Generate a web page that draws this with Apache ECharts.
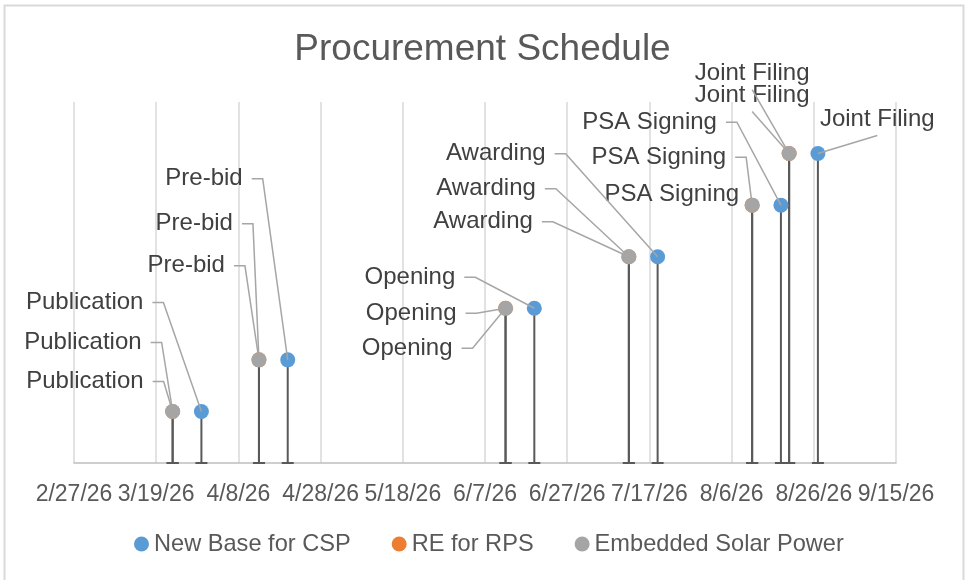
<!DOCTYPE html>
<html>
<head>
<meta charset="utf-8">
<script src="https://cdn.jsdelivr.net/npm/echarts@6/dist/echarts.min.js"></script>
<style>
  body { margin: 0; background: #fff; }
  #chart { width: 965px; height: 580px; }
</style>
</head>
<body>
<div id="chart"></div>
<script>
// milestones (y level 1..6)
const milestones = ['Publication', 'Pre-bid', 'Opening', 'Awarding', 'PSA Signing', 'Joint Filing'];
const levels = [1, 2, 3, 4, 5, 6];
// dates per series
const cspDates = ['2026-03-30', '2026-04-20', '2026-06-19', '2026-07-19', '2026-08-18', '2026-08-27'];
const rpsDates = ['2026-03-23', '2026-04-13', '2026-06-12', '2026-07-12', '2026-08-11', '2026-08-20'];
const solarDates = ['2026-03-23', '2026-04-13', '2026-06-12', '2026-07-12', '2026-08-11', '2026-08-20'];
// x axis range (ticks every 20 days)
const axisStart = '2026-02-27';
const axisEnd = '2026-09-15';
const tickStep = 20;

const FONT = 'Liberation Sans, Arial, sans-serif';

// excel style serial day number
function serial(s) {
    const p = s.split('-');
    return Date.UTC(+p[0], +p[1] - 1, +p[2]) / 86400000 + 25569;
}
function fmtDate(v) {
    const d = new Date((v - 25569) * 86400000);
    return (d.getUTCMonth() + 1) + '/' + d.getUTCDate() + '/' + String(d.getUTCFullYear()).slice(2);
}
function points(dates) {
    return dates.map((d, i) => [serial(d), levels[i]]);
}

// label placement relative to the marker: [dx, dy, align, leader anchor]
// anchor: r = right edge with short stub, b = bottom centre, n = no leader
const cspLabelPos = [[-58, -109, 'right', 'r'], [-45, -181, 'right', 'r'], [-79, -31, 'right', 'r'],
    [-112, -103, 'right', 'r'], [-64, -83, 'right', 'r'], [2, -34, 'left', 'b']];
const rpsLabelPos = [[-31, -69, 'right', 'r'], [-26, -136, 'right', 'r'], [-49, 5, 'right', 'r'],
    [-93, -68, 'right', 'r'], [-26, -48, 'right', 'r'], [-37, -80, 'center', 'b']];
const solarLabelPos = [[-29, -30, 'right', 'r'], [-34, -94, 'right', 'r'], [-53, 40, 'right', 'r'],
    [-96, -35, 'right', 'r'], [-13, -11, 'right', 'n'], [-37, -58, 'center', 'b']];

const measureCtx = document.createElement('canvas').getContext('2d');
measureCtx.font = '24px ' + FONT;

// data label + leader line, positioned from the marker's coordinate
function labelRenderer(pos) {
    return function (params, api) {
        const i = params.dataIndex;
        const o = pos[i];
        const c = api.coord([api.value(0), api.value(1)]);
        const x = c[0] + o[0];
        const y = c[1] + o[1];
        const text = milestones[i];
        const children = [];
        let pts = null;
        if (o[3] === 'r') {
            pts = [[x + 9, y], [x + 20, y], c];
        } else if (o[3] === 'b') {
            const w = measureCtx.measureText(text).width;
            const mx = o[2] === 'left' ? x + w / 2 : x;
            pts = [[mx, y + 16], c];
        }
        if (pts) {
            children.push({
                type: 'polyline',
                z2: 5,
                shape: { points: pts },
                style: { stroke: '#a6a6a6', lineWidth: 1.5, fill: null }
            });
        }
        children.push({
            type: 'text',
            x: x,
            y: y,
            style: {
                text: text,
                font: '24px ' + FONT,
                fill: '#404040',
                align: o[2],
                verticalAlign: 'middle'
            }
        });
        return { type: 'group', children: children };
    };
}

// drop line from the marker to the axis, with a cap
function dropLine(params, api) {
    const top = api.coord([api.value(0), api.value(1)]);
    const base = api.coord([api.value(0), 0]);
    const st = { stroke: '#595959', lineWidth: 2 };
    return {
        type: 'group',
        children: [
            { type: 'line', shape: { x1: top[0], y1: top[1], x2: base[0], y2: base[1] }, style: st },
            { type: 'line', shape: { x1: base[0] - 6, y1: base[1], x2: base[0] + 6, y2: base[1] }, style: st }
        ]
    };
}

function markerSeries(name, color, dates) {
    return {
        name: name,
        type: 'scatter',
        z: 3,
        symbolSize: 15,
        itemStyle: { color: color, opacity: 1 },
        data: points(dates),
        emphasis: { disabled: true }
    };
}

function dropSeries(dates) {
    return {
        type: 'custom',
        z: 1,
        silent: true,
        renderItem: dropLine,
        encode: { x: 0, y: 1 },
        data: points(dates)
    };
}

function labelSeries(dates, pos) {
    return {
        type: 'custom',
        z: 5,
        silent: true,
        renderItem: labelRenderer(pos),
        encode: { x: 0, y: 1 },
        data: points(dates)
    };
}

const chart = echarts.init(document.getElementById('chart'));
chart.setOption({
    animation: false,
    textStyle: { fontFamily: FONT },
    title: {
        text: 'Procurement Schedule',
        left: 'center',
        top: 26,
        textStyle: { fontSize: 37, fontWeight: 'normal', color: '#595959' }
    },
    legend: {
        data: ['New Base for CSP', 'RE for RPS', 'Embedded Solar Power'],
        bottom: 19,
        left: 129,
        icon: 'circle',
        itemWidth: 15,
        itemHeight: 15,
        itemGap: 41,
        textStyle: { fontSize: 23.6, color: '#595959' }
    },
    graphic: [{
        type: 'rect',
        shape: { x: 4.5, y: 5.5, width: 959, height: 590 },
        style: { fill: null, stroke: '#d9d9d9', lineWidth: 2 },
        silent: true
    }],
    grid: { left: 74, right: 69, top: 102, bottom: 117 },
    xAxis: {
        type: 'value',
        min: serial(axisStart),
        max: serial(axisEnd),
        interval: tickStep,
        axisLine: { show: true, lineStyle: { color: '#bfbfbf', width: 1.5 } },
        axisTick: { show: false },
        splitLine: { show: true, lineStyle: { color: '#d9d9d9', width: 1.5 } },
        axisLabel: {
            formatter: fmtDate,
            fontSize: 23,
            color: '#595959',
            margin: 20,
            hideOverlap: false,
            showMinLabel: true,
            showMaxLabel: true
        }
    },
    yAxis: {
        type: 'value',
        min: 0,
        max: 7,
        show: false
    },
    series: [
        dropSeries(cspDates),
        dropSeries(rpsDates),
        dropSeries(solarDates),
        markerSeries('New Base for CSP', '#5b9bd5', cspDates),
        markerSeries('RE for RPS', '#ed7d31', rpsDates),
        markerSeries('Embedded Solar Power', '#a5a5a5', solarDates),
        labelSeries(cspDates, cspLabelPos),
        labelSeries(rpsDates, rpsLabelPos),
        labelSeries(solarDates, solarLabelPos)
    ]
});
</script>
</body>
</html>
